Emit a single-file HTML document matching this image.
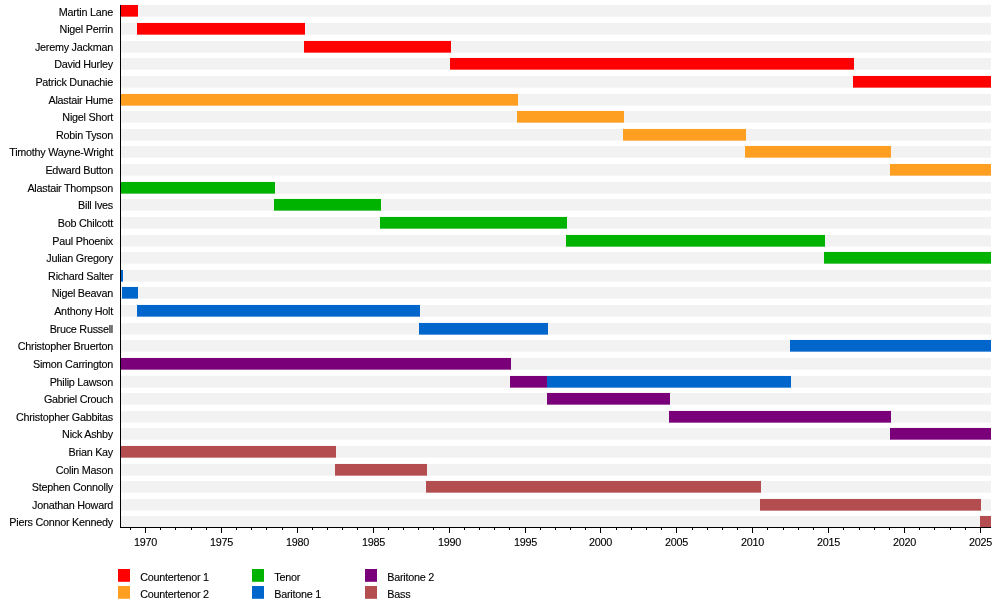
<!DOCTYPE html>
<html><head><meta charset="utf-8"><title>The King's Singers timeline</title>
<style>
html,body{margin:0;padding:0;background:#fff;width:1000px;height:602px;overflow:hidden}
svg{display:block}
#w{width:1000px;height:602px;will-change:transform;background:transparent}
text{font-family:"Liberation Sans",sans-serif;font-size:10.8px;letter-spacing:-0.25px;fill:#000;stroke:#000;stroke-width:0.12px}
</style></head><body>
<div id="w"><svg width="1000" height="602" viewBox="0 0 1000 602">
<rect x="120" y="4.95" width="871" height="11.7" fill="#f2f2f2"/>
<rect x="120" y="22.95" width="871" height="11.7" fill="#f2f2f2"/>
<rect x="120" y="40.95" width="871" height="11.7" fill="#f2f2f2"/>
<rect x="120" y="57.95" width="871" height="11.7" fill="#f2f2f2"/>
<rect x="120" y="75.95" width="871" height="11.7" fill="#f2f2f2"/>
<rect x="120" y="93.95" width="871" height="11.7" fill="#f2f2f2"/>
<rect x="120" y="110.95" width="871" height="11.7" fill="#f2f2f2"/>
<rect x="120" y="128.95" width="871" height="11.7" fill="#f2f2f2"/>
<rect x="120" y="145.95" width="871" height="11.7" fill="#f2f2f2"/>
<rect x="120" y="163.95" width="871" height="11.7" fill="#f2f2f2"/>
<rect x="120" y="181.95" width="871" height="11.7" fill="#f2f2f2"/>
<rect x="120" y="198.95" width="871" height="11.7" fill="#f2f2f2"/>
<rect x="120" y="216.95" width="871" height="11.7" fill="#f2f2f2"/>
<rect x="120" y="234.95" width="871" height="11.7" fill="#f2f2f2"/>
<rect x="120" y="251.95" width="871" height="11.7" fill="#f2f2f2"/>
<rect x="120" y="269.95" width="871" height="11.7" fill="#f2f2f2"/>
<rect x="120" y="286.95" width="871" height="11.7" fill="#f2f2f2"/>
<rect x="120" y="304.95" width="871" height="11.7" fill="#f2f2f2"/>
<rect x="120" y="322.95" width="871" height="11.7" fill="#f2f2f2"/>
<rect x="120" y="339.95" width="871" height="11.7" fill="#f2f2f2"/>
<rect x="120" y="357.95" width="871" height="11.7" fill="#f2f2f2"/>
<rect x="120" y="375.95" width="871" height="11.7" fill="#f2f2f2"/>
<rect x="120" y="392.95" width="871" height="11.7" fill="#f2f2f2"/>
<rect x="120" y="410.95" width="871" height="11.7" fill="#f2f2f2"/>
<rect x="120" y="427.95" width="871" height="11.7" fill="#f2f2f2"/>
<rect x="120" y="445.95" width="871" height="11.7" fill="#f2f2f2"/>
<rect x="120" y="463.95" width="871" height="11.7" fill="#f2f2f2"/>
<rect x="120" y="480.95" width="871" height="11.7" fill="#f2f2f2"/>
<rect x="120" y="498.95" width="871" height="11.7" fill="#f2f2f2"/>
<rect x="120" y="515.95" width="871" height="11.7" fill="#f2f2f2"/>
<rect x="120" y="4.95" width="18" height="11.7" fill="#ff0000"/>
<rect x="137" y="22.95" width="168" height="11.7" fill="#ff0000"/>
<rect x="304" y="40.95" width="147" height="11.7" fill="#ff0000"/>
<rect x="450" y="57.95" width="404" height="11.7" fill="#ff0000"/>
<rect x="853" y="75.95" width="138" height="11.7" fill="#ff0000"/>
<rect x="120" y="93.95" width="398" height="11.7" fill="#ff9f22"/>
<rect x="517" y="110.95" width="107" height="11.7" fill="#ff9f22"/>
<rect x="623" y="128.95" width="123" height="11.7" fill="#ff9f22"/>
<rect x="745" y="145.95" width="146" height="11.7" fill="#ff9f22"/>
<rect x="890" y="163.95" width="101" height="11.7" fill="#ff9f22"/>
<rect x="120" y="181.95" width="155" height="11.7" fill="#00b300"/>
<rect x="274" y="198.95" width="107" height="11.7" fill="#00b300"/>
<rect x="380" y="216.95" width="187" height="11.7" fill="#00b300"/>
<rect x="566" y="234.95" width="259" height="11.7" fill="#00b300"/>
<rect x="824" y="251.95" width="167" height="11.7" fill="#00b300"/>
<rect x="120" y="269.95" width="3" height="11.7" fill="#0066cc"/>
<rect x="122" y="286.95" width="16" height="11.7" fill="#0066cc"/>
<rect x="137" y="304.95" width="283" height="11.7" fill="#0066cc"/>
<rect x="419" y="322.95" width="129" height="11.7" fill="#0066cc"/>
<rect x="790" y="339.95" width="201" height="11.7" fill="#0066cc"/>
<rect x="120" y="357.95" width="391" height="11.7" fill="#7a007a"/>
<rect x="510" y="375.95" width="37" height="11.7" fill="#7a007a"/>
<rect x="547" y="375.95" width="244" height="11.7" fill="#0066cc"/>
<rect x="547" y="392.95" width="123" height="11.7" fill="#7a007a"/>
<rect x="669" y="410.95" width="222" height="11.7" fill="#7a007a"/>
<rect x="890" y="427.95" width="101" height="11.7" fill="#7a007a"/>
<rect x="120" y="445.95" width="216" height="11.7" fill="#b34d4f"/>
<rect x="335" y="463.95" width="92" height="11.7" fill="#b34d4f"/>
<rect x="426" y="480.95" width="335" height="11.7" fill="#b34d4f"/>
<rect x="760" y="498.95" width="221" height="11.7" fill="#b34d4f"/>
<rect x="980" y="515.95" width="11" height="11.7" fill="#b34d4f"/>
<text x="113" y="15.5" text-anchor="end">Martin Lane</text>
<text x="113" y="33.12" text-anchor="end">Nigel Perrin</text>
<text x="113" y="50.74" text-anchor="end">Jeremy Jackman</text>
<text x="113" y="68.36" text-anchor="end">David Hurley</text>
<text x="113" y="85.98" text-anchor="end">Patrick Dunachie</text>
<text x="113" y="103.6" text-anchor="end">Alastair Hume</text>
<text x="113" y="121.22" text-anchor="end">Nigel Short</text>
<text x="113" y="138.84" text-anchor="end">Robin Tyson</text>
<text x="113" y="156.46" text-anchor="end">Timothy Wayne-Wright</text>
<text x="113" y="174.08" text-anchor="end">Edward Button</text>
<text x="113" y="191.7" text-anchor="end">Alastair Thompson</text>
<text x="113" y="209.32" text-anchor="end">Bill Ives</text>
<text x="113" y="226.94" text-anchor="end">Bob Chilcott</text>
<text x="113" y="244.56" text-anchor="end">Paul Phoenix</text>
<text x="113" y="262.18" text-anchor="end">Julian Gregory</text>
<text x="113" y="279.8" text-anchor="end">Richard Salter</text>
<text x="113" y="297.42" text-anchor="end">Nigel Beavan</text>
<text x="113" y="315.04" text-anchor="end">Anthony Holt</text>
<text x="113" y="332.66" text-anchor="end">Bruce Russell</text>
<text x="113" y="350.28" text-anchor="end">Christopher Bruerton</text>
<text x="113" y="367.9" text-anchor="end">Simon Carrington</text>
<text x="113" y="385.52" text-anchor="end">Philip Lawson</text>
<text x="113" y="403.14" text-anchor="end">Gabriel Crouch</text>
<text x="113" y="420.76" text-anchor="end">Christopher Gabbitas</text>
<text x="113" y="438.38" text-anchor="end">Nick Ashby</text>
<text x="113" y="456" text-anchor="end">Brian Kay</text>
<text x="113" y="473.62" text-anchor="end">Colin Mason</text>
<text x="113" y="491.24" text-anchor="end">Stephen Connolly</text>
<text x="113" y="508.86" text-anchor="end">Jonathan Howard</text>
<text x="113" y="526.48" text-anchor="end">Piers Connor Kennedy</text>
<rect x="120" y="5" width="1" height="523" fill="#000"/>
<rect x="120" y="527" width="871" height="1" fill="#000"/>
<rect x="130" y="528" width="1" height="2" fill="#000"/>
<rect x="145" y="528" width="1" height="5" fill="#000"/>
<text x="145.5" y="546" text-anchor="middle">1970</text>
<rect x="160" y="528" width="1" height="2" fill="#000"/>
<rect x="175" y="528" width="1" height="2" fill="#000"/>
<rect x="191" y="528" width="1" height="2" fill="#000"/>
<rect x="206" y="528" width="1" height="2" fill="#000"/>
<rect x="221" y="528" width="1" height="5" fill="#000"/>
<text x="221.5" y="546" text-anchor="middle">1975</text>
<rect x="236" y="528" width="1" height="2" fill="#000"/>
<rect x="251" y="528" width="1" height="2" fill="#000"/>
<rect x="266" y="528" width="1" height="2" fill="#000"/>
<rect x="282" y="528" width="1" height="2" fill="#000"/>
<rect x="297" y="528" width="1" height="5" fill="#000"/>
<text x="297.5" y="546" text-anchor="middle">1980</text>
<rect x="312" y="528" width="1" height="2" fill="#000"/>
<rect x="327" y="528" width="1" height="2" fill="#000"/>
<rect x="342" y="528" width="1" height="2" fill="#000"/>
<rect x="357" y="528" width="1" height="2" fill="#000"/>
<rect x="373" y="528" width="1" height="5" fill="#000"/>
<text x="373.5" y="546" text-anchor="middle">1985</text>
<rect x="388" y="528" width="1" height="2" fill="#000"/>
<rect x="403" y="528" width="1" height="2" fill="#000"/>
<rect x="418" y="528" width="1" height="2" fill="#000"/>
<rect x="433" y="528" width="1" height="2" fill="#000"/>
<rect x="449" y="528" width="1" height="5" fill="#000"/>
<text x="449.5" y="546" text-anchor="middle">1990</text>
<rect x="464" y="528" width="1" height="2" fill="#000"/>
<rect x="479" y="528" width="1" height="2" fill="#000"/>
<rect x="494" y="528" width="1" height="2" fill="#000"/>
<rect x="509" y="528" width="1" height="2" fill="#000"/>
<rect x="525" y="528" width="1" height="5" fill="#000"/>
<text x="525.5" y="546" text-anchor="middle">1995</text>
<rect x="540" y="528" width="1" height="2" fill="#000"/>
<rect x="555" y="528" width="1" height="2" fill="#000"/>
<rect x="570" y="528" width="1" height="2" fill="#000"/>
<rect x="585" y="528" width="1" height="2" fill="#000"/>
<rect x="600" y="528" width="1" height="5" fill="#000"/>
<text x="600.5" y="546" text-anchor="middle">2000</text>
<rect x="616" y="528" width="1" height="2" fill="#000"/>
<rect x="631" y="528" width="1" height="2" fill="#000"/>
<rect x="646" y="528" width="1" height="2" fill="#000"/>
<rect x="661" y="528" width="1" height="2" fill="#000"/>
<rect x="676" y="528" width="1" height="5" fill="#000"/>
<text x="676.5" y="546" text-anchor="middle">2005</text>
<rect x="692" y="528" width="1" height="2" fill="#000"/>
<rect x="707" y="528" width="1" height="2" fill="#000"/>
<rect x="722" y="528" width="1" height="2" fill="#000"/>
<rect x="737" y="528" width="1" height="2" fill="#000"/>
<rect x="752" y="528" width="1" height="5" fill="#000"/>
<text x="752.5" y="546" text-anchor="middle">2010</text>
<rect x="767" y="528" width="1" height="2" fill="#000"/>
<rect x="783" y="528" width="1" height="2" fill="#000"/>
<rect x="798" y="528" width="1" height="2" fill="#000"/>
<rect x="813" y="528" width="1" height="2" fill="#000"/>
<rect x="828" y="528" width="1" height="5" fill="#000"/>
<text x="828.5" y="546" text-anchor="middle">2015</text>
<rect x="843" y="528" width="1" height="2" fill="#000"/>
<rect x="859" y="528" width="1" height="2" fill="#000"/>
<rect x="874" y="528" width="1" height="2" fill="#000"/>
<rect x="889" y="528" width="1" height="2" fill="#000"/>
<rect x="904" y="528" width="1" height="5" fill="#000"/>
<text x="904.5" y="546" text-anchor="middle">2020</text>
<rect x="919" y="528" width="1" height="2" fill="#000"/>
<rect x="934" y="528" width="1" height="2" fill="#000"/>
<rect x="950" y="528" width="1" height="2" fill="#000"/>
<rect x="965" y="528" width="1" height="2" fill="#000"/>
<rect x="980" y="528" width="1" height="5" fill="#000"/>
<text x="980.5" y="546" text-anchor="middle">2025</text>
<rect x="118" y="569" width="12" height="12.8" fill="#ff0000"/>
<text x="140.3" y="581">Countertenor 1</text>
<rect x="118" y="586" width="12" height="12.8" fill="#ff9f22"/>
<text x="140.3" y="598">Countertenor 2</text>
<rect x="252" y="569" width="12" height="12.8" fill="#00b300"/>
<text x="274.3" y="581">Tenor</text>
<rect x="252" y="586" width="12" height="12.8" fill="#0066cc"/>
<text x="274.3" y="598">Baritone 1</text>
<rect x="365" y="569" width="12" height="12.8" fill="#7a007a"/>
<text x="387.3" y="581">Baritone 2</text>
<rect x="365" y="586" width="12" height="12.8" fill="#b34d4f"/>
<text x="387.3" y="598">Bass</text>
</svg></div>
</body></html>
